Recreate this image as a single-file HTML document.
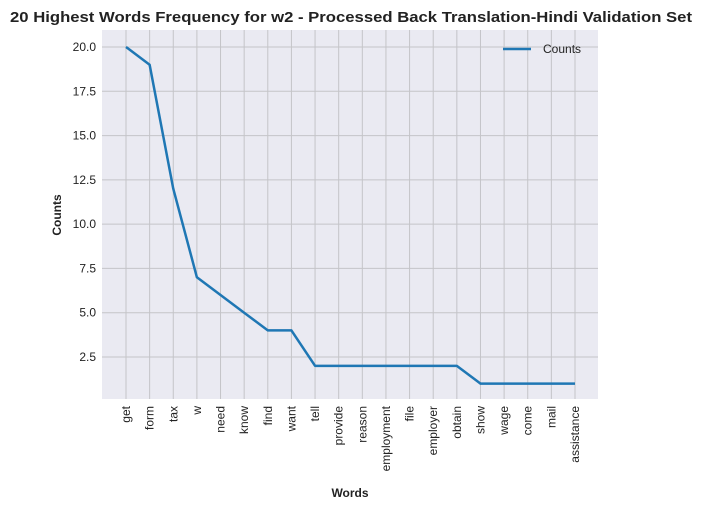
<!DOCTYPE html>
<html><head><meta charset="utf-8"><style>
body{margin:0;background:#fff;}
svg{display:block;font-family:"Liberation Sans",Arial,sans-serif;}
</style></head><body>
<svg id="chart" width="701" height="510"></svg>
<script>
const categories=["get","form","tax","w","need","know","find","want","tell","provide","reason","employment","file","employer","obtain","show","wage","come","mail","assistance"];
const counts=[20,19,12,7,6,5,4,4,2,2,2,2,2,2,2,1,1,1,1,1];
const yTicks=[2.5,5.0,7.5,10.0,12.5,15.0,17.5,20.0];
const yTickLabels=["2.5","5.0","7.5","10.0","12.5","15.0","17.5","20.0"];
const NS="http://www.w3.org/2000/svg";
const svg=document.getElementById('chart');
const L=102,R=598,T=30,B=399;
const x0=126,dx=(575-126)/19;
function xs(i){return x0+i*dx;}
function ys(v){return 47+(20-v)*(310/17.5);}
function mk(t,a,p){const e=document.createElementNS(NS,t);for(const k in a)e.setAttribute(k,a[k]);(p||svg).appendChild(e);return e;}
const bg=mk('rect',{x:L,y:T,width:R-L,height:B-T,fill:'#eaeaf2'});


yTicks.forEach((v,i)=>{
 const g=mk('line',{x1:L,x2:R,y1:ys(v),y2:ys(v),stroke:'#c4c4c8','stroke-width':1});
 
 
 const t=mk('text',{x:L-6,y:ys(v)+4,'text-anchor':'end','font-size':12,fill:'#222'});
 t.textContent=yTickLabels[i];
 
 
});
categories.forEach((c,i)=>{
 const g=mk('line',{x1:xs(i),x2:xs(i),y1:T,y2:B,stroke:'#c4c4c8','stroke-width':1});
 
 
 const t=mk('text',{x:0,y:0,'text-anchor':'end','font-size':12,fill:'#222',transform:`translate(${xs(i)+4},${B+7}) rotate(-90)`});
 t.textContent=c;
 
 
});
const line=mk('polyline',{points:counts.map((v,i)=>xs(i)+','+ys(v)).join(' '),fill:'none',stroke:'#1f77b4','stroke-width':2.5,'stroke-linejoin':'round'});


const ttl=mk('text',{x:10,y:22,'font-size':15,'font-weight':'bold',fill:'#222',textLength:682,lengthAdjust:'spacingAndGlyphs'});
ttl.textContent='20 Highest Words Frequency for w2 - Processed Back Translation-Hindi Validation Set';


const yl=mk('text',{x:0,y:0,'text-anchor':'middle','font-size':12,'font-weight':'bold',fill:'#222',transform:'translate(61,215) rotate(-90)'});
yl.textContent='Counts';


const xl=mk('text',{x:350,y:497,'text-anchor':'middle','font-size':12,'font-weight':'bold',fill:'#222'});
xl.textContent='Words';


const lg=mk('g',{});


mk('line',{x1:503,x2:531,y1:49,y2:49,stroke:'#1f77b4','stroke-width':2.5},lg);
const lt=mk('text',{x:543,y:53,'font-size':12,fill:'#222'},lg);
lt.textContent='Counts';
</script>
</body></html>
